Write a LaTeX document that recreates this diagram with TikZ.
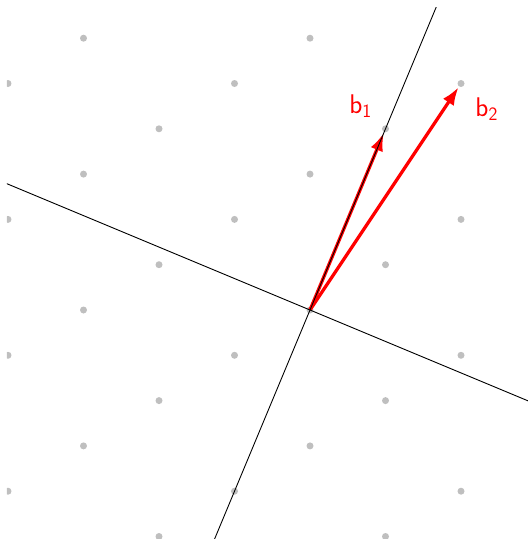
\documentclass[tikz,border=0pt]{standalone}
\usepackage{fontspec}
\usetikzlibrary{arrows.meta}
\tikzset{
  dotc/.style={fill=black!25},
  axisline/.style={black, line width=0.9pt},
  vec/.style={red, line width=3.3pt, -{Latex[length=18pt,width=13pt]}, shorten >=4.5pt},
  veclabel/.style={red, font=\sffamily\fontsize{27}{32}\selectfont, inner sep=0pt}
}
\begin{document}
\begin{tikzpicture}[x=75.5pt,y=75.5pt]
\useasboundingbox (-4.106,-3.033) rectangle (2.887,4.106);
\coordinate (O) at (0,0);
\coordinate (B1) at (1,2.4);
\coordinate (B2) at (2,3);
\coordinate (L1a) at (-2,-4.8);
\coordinate (L1b) at (2,4.8);
\coordinate (L2a) at (-4.8,2);
\coordinate (L2b) at (4.8,-2);
\begin{scope}
\clip (-4.015,-3.033) rectangle (2.887,4.013);
\foreach \m in {-5,...,4}
  \foreach \n in {-4,...,6}
    \fill[dotc] ({\m},{0.6*\m+1.8*\n}) circle (3.5pt);
\draw[vec] (O) -- (B1);
\draw[vec] (O) -- (B2);
\draw[axisline] (L1a) -- (L1b);
\draw[axisline] (L2a) -- (L2b);
\end{scope}
\node[veclabel] (lb1) at (0.67,2.70) {b\textsubscript{1}};
\node[veclabel] (lb2) at (2.34,2.66) {b\textsubscript{2}};
\end{tikzpicture}
\end{document}
